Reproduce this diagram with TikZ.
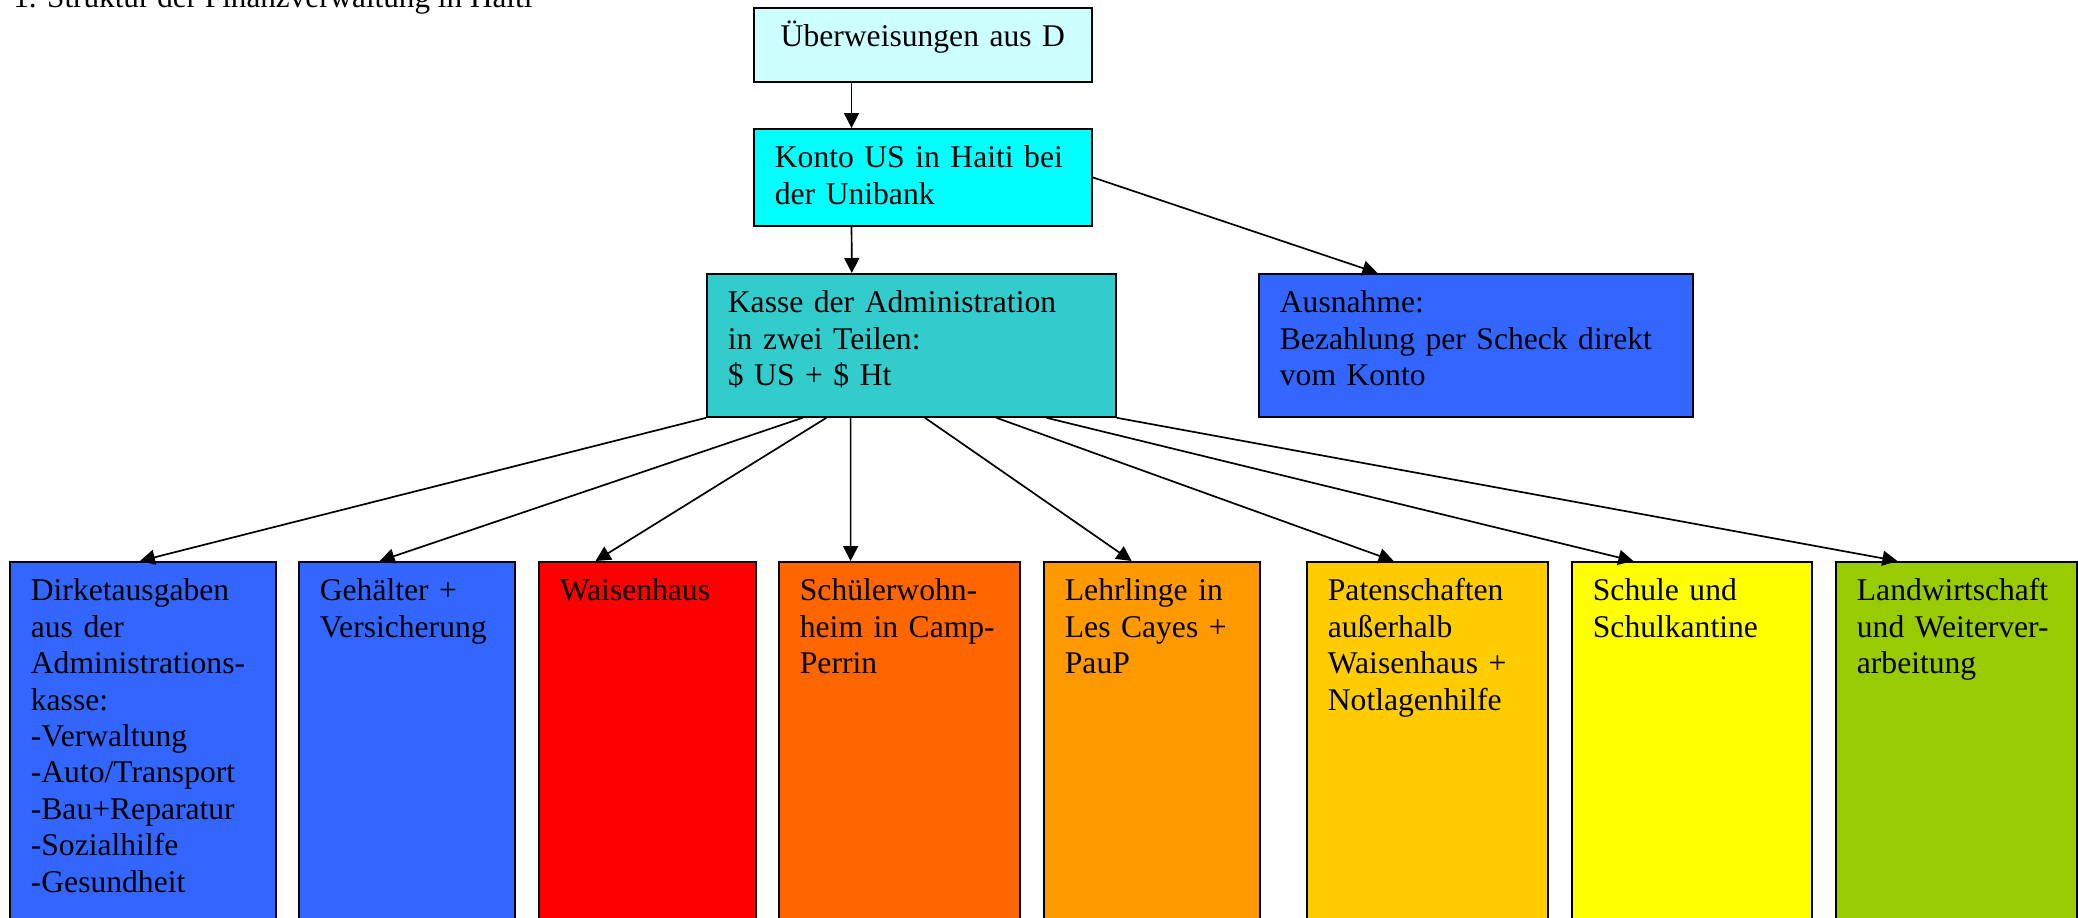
\documentclass[tikz,border=0pt]{standalone}
\usepackage{fontspec}
\setmainfont{Liberation Serif}
\usetikzlibrary{arrows.meta,calc}

\definecolor{ueberw}{HTML}{CCFFFF}
\definecolor{konto}{HTML}{00FFFF}
\definecolor{kasse}{HTML}{33CCCC}
\definecolor{blau}{HTML}{3366FF}
\definecolor{rot}{HTML}{FF0000}
\definecolor{orangeA}{HTML}{FF6600}
\definecolor{orangeB}{HTML}{FF9900}
\definecolor{gold}{HTML}{FFCC00}
\definecolor{gelb}{HTML}{FFFF00}
\definecolor{gruen}{HTML}{99CC00}

\begin{document}
\begin{tikzpicture}[x=0.5pt,y=-0.5pt,
        kasten/.style={draw,line width=0.9pt,anchor=north west,align=left,
            inner xsep=10.5pt,inner ysep=8.5pt,text height=11pt,
            font=\fontsize{15.8}{18.2}\selectfont},
        spalte/.style={kasten,text depth=162pt},
        pfeil/.style={-{Triangle[length=7.5pt,width=7.5pt]},line width=0.85pt}]
    \useasboundingbox (0,0) rectangle (2078,917);

    \node [anchor=base west,inner sep=0pt,font=\fontsize{15.6}{18}\selectfont] (titel) at (13,7)
        {1. Struktur der Finanzverwaltung in Haiti};

    % obere Ebene
    \node [kasten,fill=ueberw,align=center,text width=148pt,text depth=9pt] (ueberweisung) at (753,7)
        {Überweisungen aus D};
    \node [kasten,fill=konto,text width=148pt,text depth=20.5pt] (konto) at (753,128)
        {Konto US in Haiti bei\\der Unibank};
    \node [kasten,fill=kasse,text width=183.5pt,text depth=43.5pt] (kasse) at (706,273)
        {Kasse der Administration\\in zwei Teilen:\\\$ US + \$ Ht};
    \node [kasten,fill=blau,text width=196pt,text depth=43.5pt] (ausnahme) at (1258,273)
        {Ausnahme:\\Bezahlung per Scheck direkt\\vom Konto};

    % Ausgabenbereiche
    \node [spalte,fill=blau,text width=112pt] (direkt) at (9,561)
        {Dirketausgaben\\aus der\\Administrations-\\kasse:\\-Verwaltung\\-Auto/Transport\\-Bau+Reparatur\\-Sozialhilfe\\-Gesundheit};
    \node [spalte,fill=blau,text width=87pt] (gehalt) at (298,561)
        {Gehälter +\\Versicherung};
    \node [spalte,fill=rot,text width=87.5pt] (waisen) at (538,561)
        {Waisenhaus};
    \node [spalte,fill=orangeA,text width=99.5pt] (wohnheim) at (778,561)
        {Schülerwohn-\\heim in Camp-\\Perrin};
    \node [spalte,fill=orangeB,text width=87pt] (lehrlinge) at (1043,561)
        {Lehrlinge in\\Les Cayes +\\PauP};
    \node [spalte,fill=gold,text width=99.5pt] (paten) at (1306,561)
        {Patenschaften\\außerhalb\\Waisenhaus +\\Notlagenhilfe};
    \node [spalte,fill=gelb,text width=99pt] (schule) at (1571,561)
        {Schule und\\Schulkantine};
    \node [spalte,fill=gruen,text width=99.5pt] (landwirt) at (1835,561)
        {Landwirtschaft\\und Weiterver-\\arbeitung};

    % Pfeile
    \draw [pfeil] ($(ueberweisung.south west)!0.29!(ueberweisung.south east)$) -- ($(konto.north west)!0.29!(konto.north east)$);
    \draw [pfeil] ($(konto.south west)!0.29!(konto.south east)$) -- ($(kasse.north west)!0.355!(kasse.north east)$);
    \draw [pfeil] (konto.east) -- ($(ausnahme.north west)!0.274!(ausnahme.north east)$);

    \foreach \ziel/\von/\nach in {direkt/0/0.489, gehalt/0.235/0.375, waisen/0.293/0.263,
            wohnheim/0.352/0.299, lehrlinge/0.533/0.407, paten/0.707/0.361,
            schule/0.829/0.258, landwirt/1/0.257}{%
        \draw [pfeil] ($(kasse.south west)!\von!(kasse.south east)$) -- ($(\ziel.north west)!\nach!(\ziel.north east)$);
    }
\end{tikzpicture}
\end{document}
